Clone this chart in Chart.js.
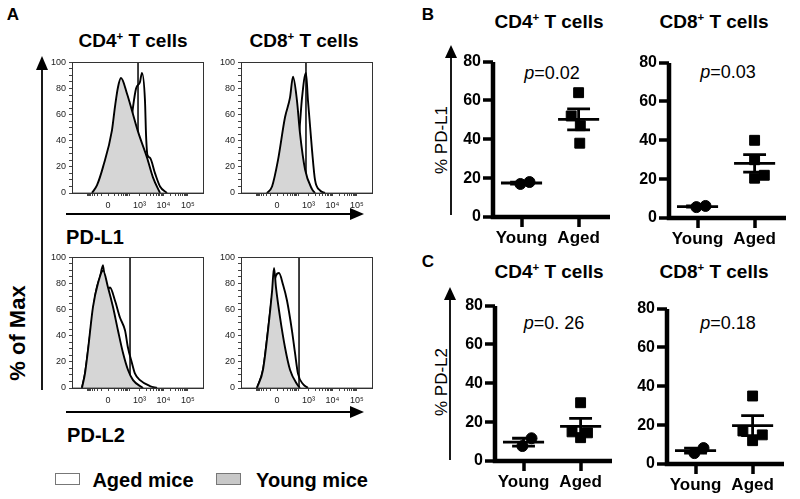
<!DOCTYPE html>
<html>
<head>
<meta charset="utf-8">
<script src="https://cdn.jsdelivr.net/npm/chart.js@4.4.1/dist/chart.umd.min.js"></script>
<style>
  body { margin: 0; background: #fff; }
  #fig { position: relative; width: 800px; height: 499px; overflow: hidden;
         font-family: Arial, "Liberation Sans", sans-serif; color: #000; }
  .lbl { position: absolute; white-space: nowrap; transform: translate(-50%, -50%); }
  .b { font-weight: bold; }
  sup { font-size: 60%; vertical-align: 0.6em; line-height: 0; }
  svg { position: absolute; left: 0; top: 0; }
  .key { position: absolute; width: 23px; height: 10px; border: 1px solid #777; }
</style>
</head>
<body>
<div id="fig">
  <div class="lbl b" style="left:13px;top:15px;font-size:17px">A</div>
  <div class="lbl b" style="left:133px;top:41px;font-size:19px">CD4<sup>+</sup> T cells</div>
  <div class="lbl b" style="left:304px;top:41px;font-size:19px">CD8<sup>+</sup> T cells</div>
  <div class="lbl b" style="left:95px;top:237px;font-size:20px">PD-L1</div>
  <div class="lbl b" style="left:96px;top:435px;font-size:20px">PD-L2</div>
  <div class="lbl b" style="left:18px;top:333px;font-size:22px;transform:translate(-50%,-50%) rotate(-90deg)">% of Max</div>

  <div class="key" style="left:55px;top:473px;background:#fff"></div>
  <div class="lbl b" style="left:143px;top:480px;font-size:20px">Aged mice</div>
  <div class="key" style="left:216px;top:473px;background:#c8c8c8"></div>
  <div class="lbl b" style="left:312px;top:480px;font-size:20px">Young mice</div>

  <div class="lbl b" style="left:428px;top:15px;font-size:17px">B</div>
  <div class="lbl b" style="left:549px;top:22px;font-size:19px">CD4<sup>+</sup> T cells</div>
  <div class="lbl b" style="left:714px;top:22px;font-size:19px">CD8<sup>+</sup> T cells</div>
  <div class="lbl" style="left:442px;top:140px;font-size:17px;transform:translate(-50%,-50%) rotate(-90deg)">% PD-L1</div>
  <div class="lbl" style="left:552px;top:73px;font-size:18px"><i>p</i>=0.02</div>
  <div class="lbl" style="left:728px;top:72px;font-size:18px"><i>p</i>=0.03</div>

  <div class="lbl b" style="left:428px;top:262px;font-size:17px">C</div>
  <div class="lbl b" style="left:549px;top:272px;font-size:19px">CD4<sup>+</sup> T cells</div>
  <div class="lbl b" style="left:714px;top:272px;font-size:19px">CD8<sup>+</sup> T cells</div>
  <div class="lbl" style="left:442px;top:382px;font-size:17px;transform:translate(-50%,-50%) rotate(-90deg)">% PD-L2</div>
  <div class="lbl" style="left:554px;top:323px;font-size:18px"><i>p</i>=0. 26</div>
  <div class="lbl" style="left:728px;top:323px;font-size:18px"><i>p</i>=0.18</div>

  <svg width="800" height="499">
    <g stroke="#000" stroke-width="1.8" fill="#000">
      <line x1="42" y1="390" x2="42" y2="68"/>
      <polygon points="36,70 48,70 42,56" stroke="none"/>
      <line x1="66" y1="214" x2="352" y2="214"/>
      <polygon points="350,208 350,220 364,214" stroke="none"/>
      <line x1="66" y1="412" x2="352" y2="412"/>
      <polygon points="350,406 350,418 364,412" stroke="none"/>
      <line x1="451" y1="215" x2="451" y2="56"/>
      <polygon points="445,58 457,58 451,45" stroke="none"/>
      <line x1="450" y1="460" x2="450" y2="298"/>
      <polygon points="444,300 456,300 450,287" stroke="none"/>
    </g>
  </svg>
</div>

<script>
// histogram axis: channel 0..1000 across the plot box
const histTickChannels = [275, 515, 698, 885];
const histTickLabels = ["0", "10³", "10⁴", "10⁵"];

// PD-L1, CD4+ (channel, % of max)
const l1Cd4YoungX = [153, 191, 237, 305, 328, 351, 374, 420, 458, 504, 573, 618, 672];
const l1Cd4YoungY = [0, 6, 20, 48, 66, 81, 88, 76, 63, 47, 27, 12, 0];
const l1Cd4AgedX = [267, 313, 351, 405, 443, 466, 489, 519, 534, 557, 565, 576, 595, 634, 672, 725];
const l1Cd4AgedY = [0, 2, 12, 30, 46, 66, 80, 85, 92, 71, 45, 29, 27, 15, 5, 0];
const l1Cd4Gate = 504;

// PD-L1, CD8+
const l1Cd8YoungX = [198, 237, 282, 336, 374, 397, 427, 450, 489, 542, 565];
const l1Cd8YoungY = [0, 5, 25, 58, 73, 89, 71, 46, 18, 3, 0];
const l1Cd8AgedX = [351, 389, 427, 450, 466, 496, 511, 542, 565, 603, 641];
const l1Cd8AgedY = [0, 8, 25, 53, 73, 92, 71, 33, 10, 2, 0];
const l1Cd8Gate = 496;

// PD-L2, CD4+
const l2Cd4YoungX = [76, 99, 122, 160, 198, 237, 275, 313, 351, 389, 427, 466, 542];
const l2Cd4YoungY = [0, 11, 29, 62, 80, 90, 77, 62, 44, 27, 14, 6, 0];
const l2Cd4AgedX = [76, 99, 137, 183, 214, 237, 260, 290, 328, 366, 405, 427, 458, 481, 519, 595, 649];
const l2Cd4AgedY = [0, 11, 40, 74, 85, 94, 74, 77, 67, 54, 44, 31, 19, 11, 6, 1.5, 0];
const l2Cd4Gate = 443;

// PD-L2, CD8+
const l2Cd8YoungX = [122, 168, 206, 237, 252, 267, 298, 336, 374, 427, 450];
const l2Cd8YoungY = [0, 14, 44, 74, 92, 77, 54, 31, 14, 3, 0];
const l2Cd8AgedX = [122, 168, 206, 237, 267, 290, 321, 351, 389, 412, 435, 473, 511];
const l2Cd8AgedY = [0, 14, 44, 70, 86, 88, 79, 67, 44, 27, 11, 3, 0];
const l2Cd8Gate = 443;

// dot plots (% positive)
const groupLabels = ["Young", "Aged"];
const l1Cd4Young = [17, 18];
const l1Cd4Aged = [64, 52, 47, 38];
const l1Cd8Young = [5.6, 6.2];
const l1Cd8Aged = [40, 30, 20.5, 22];
const l2Cd4Young = [7.7, 11.7];
const l2Cd4Aged = [30, 15, 14.5, 12];
const l2Cd8Young = [5.6, 8.2];
const l2Cd8Aged = [35, 17, 15, 12];
// horizontal scatter of points around each group
const youngJitter = [-0.02, 0.14];
const l1Cd4AgedJitter = [0, -0.13, 0.03, 0.02];
const l1Cd8AgedJitter = [0, 0, 0, 0.17];
const l2Cd4AgedJitter = [0, -0.15, 0.12, 0];
const l2Cd8AgedJitter = [0, -0.17, 0.17, 0];

Chart.defaults.font.family = 'Arial, "Liberation Sans", sans-serif';

function place(left, top, w, h) {
  const cv = document.createElement("canvas");
  cv.width = w;
  cv.height = h;
  cv.style.cssText = `position:absolute;left:${left}px;top:${top}px;width:${w}px;height:${h}px`;
  document.getElementById("fig").appendChild(cv);
  return cv.getContext("2d");
}

const boxPlugin = {
  id: "box",
  afterDraw(chart) {
    const { ctx, chartArea: a } = chart;
    ctx.save();
    ctx.strokeStyle = "#333";
    ctx.lineWidth = 1;
    ctx.strokeRect(Math.round(a.left) + 0.5, Math.round(a.top) + 0.5, a.right - a.left, a.bottom - a.top);
    ctx.restore();
  },
};

// heavy Prism-style axes with outward ticks, placed from the chart's scales
const heavyAxes = {
  id: "heavyAxes",
  afterDraw(chart) {
    const { ctx, chartArea: a, scales } = chart;
    const left = Math.round(a.left), bottom = Math.round(a.bottom);
    ctx.save();
    ctx.strokeStyle = "#000";
    ctx.lineCap = "butt";
    ctx.lineWidth = 4.5;
    ctx.beginPath();
    ctx.moveTo(left, Math.round(a.top));
    ctx.lineTo(left, bottom + 2.25);
    ctx.moveTo(left - 2.25, bottom);
    ctx.lineTo(Math.round(a.right), bottom);
    ctx.stroke();
    ctx.lineWidth = 3.5;
    ctx.beginPath();
    scales.y.ticks.forEach((t) => {
      const py = Math.round(scales.y.getPixelForValue(t.value));
      ctx.moveTo(left - 10, py);
      ctx.lineTo(left, py);
    });
    scales.x.ticks.forEach((t) => {
      const px = Math.round(scales.x.getPixelForValue(t.value));
      ctx.moveTo(px, bottom);
      ctx.lineTo(px, bottom + 10);
    });
    ctx.stroke();
    ctx.restore();
  },
};

function histAxisTicks() {
  const out = histTickChannels.map((v) => ({ value: v }));
  const [z, t3, t4, t5] = histTickChannels;
  for (let k = 2; k <= 9; k++) {
    const f = Math.log10(k);
    out.push({ value: t3 + (t4 - t3) * f }, { value: t4 + (t5 - t4) * f });
    out.push({ value: z + (t3 - z) * f * 0.7 }, { value: z - (t3 - z) * f * 0.7 });
  }
  return out.filter((t) => t.value >= 0 && t.value <= 1000).sort((a, b) => a.value - b.value);
}

const pts = (xs, ys) => xs.map((x, i) => ({ x, y: ys[i] }));

function histogram(left, top, youngX, youngY, agedX, agedY, gate) {
  const ctx = place(left - 34, top - 8, 34 + 131 + 6, 8 + 131 + 24);
  new Chart(ctx, {
    type: "line",
    data: {
      datasets: [
        { data: pts(youngX, youngY), borderColor: "#000", borderWidth: 1.9, backgroundColor: "#d6d6d6",
          fill: "origin", pointRadius: 0, cubicInterpolationMode: "monotone" },
        { data: pts(agedX, agedY), borderColor: "#000", borderWidth: 1.9, fill: false,
          pointRadius: 0, cubicInterpolationMode: "monotone" },
        { data: [{ x: gate, y: 0 }, { x: gate, y: 100 }], borderColor: "#000", borderWidth: 1.5, pointRadius: 0 },
      ],
    },
    options: {
      responsive: false,
      animation: false,
      devicePixelRatio: 1,
      layout: { padding: { top: 8, right: 6, left: 0, bottom: 0 } },
      plugins: { legend: { display: false }, tooltip: { enabled: false } },
      scales: {
        x: {
          type: "linear", min: 0, max: 1000,
          afterFit: (s) => { s.height = 24; },
          afterBuildTicks: (s) => { s.ticks = histAxisTicks(); },
          ticks: {
            autoSkip: false, maxRotation: 0, padding: 4, font: { size: 9 }, color: "#222",
            callback: (v) => { const i = histTickChannels.indexOf(v); return i >= 0 ? histTickLabels[i] : ""; },
          },
          grid: { drawOnChartArea: false, tickLength: 3, color: "#444" },
          border: { color: "#333", width: 1 },
        },
        y: {
          min: 0, max: 100,
          afterFit: (s) => { s.width = 34; },
          ticks: { stepSize: 5, autoSkip: false, padding: 3, font: { size: 9 }, color: "#222",
                   callback: (v) => (v % 20 === 0 ? v : "") },
          grid: { drawOnChartArea: false, tickLength: 3, color: "#444" },
          border: { color: "#333", width: 1 },
        },
      },
    },
    plugins: [boxPlugin],
  });
}

function summary(c, vals) {
  const n = vals.length;
  const m = vals.reduce((a, b) => a + b, 0) / n;
  const sd = Math.sqrt(vals.reduce((a, b) => a + (b - m) ** 2, 0) / (n - 1));
  const se = sd / Math.sqrt(n);
  const seg = (x0, y0, x1, y1) => ({
    data: [{ x: x0, y: y0 }, { x: x1, y: y1 }],
    showLine: true, borderColor: "#000", borderWidth: 2.8, pointRadius: 0,
  });
  return [
    seg(c - 0.36, m, c + 0.36, m),
    seg(c, m - se, c, m + se),
    seg(c - 0.2, m + se, c + 0.2, m + se),
    seg(c - 0.2, m - se, c + 0.2, m - se),
  ];
}

function dotPlot(left, top, young, aged, agedJitter) {
  const ctx = place(left - 52, top - 12, 52 + 119 + 6, 12 + 156 + 34);
  new Chart(ctx, {
    type: "scatter",
    data: {
      datasets: [
        { data: young.map((v, i) => ({ x: 0 + youngJitter[i], y: v })), pointStyle: "circle",
          pointRadius: 5.5, backgroundColor: "#000", borderColor: "#000" },
        { data: aged.map((v, i) => ({ x: 1 + agedJitter[i], y: v })), pointStyle: "rect",
          pointRadius: 7, backgroundColor: "#000", borderColor: "#000" },
        ...summary(0, young),
        ...summary(1, aged),
      ],
    },
    options: {
      responsive: false,
      animation: false,
      devicePixelRatio: 1,
      layout: { padding: { top: 12, right: 6, left: 0, bottom: 0 } },
      plugins: { legend: { display: false }, tooltip: { enabled: false } },
      scales: {
        x: {
          type: "linear", min: -0.5, max: 1.55,
          afterFit: (s) => { s.height = 34; },
          afterBuildTicks: (s) => { s.ticks = [{ value: 0 }, { value: 1 }]; },
          ticks: { padding: 2, font: { size: 17, weight: "bold" }, color: "#000",
                   callback: (v) => groupLabels[v] },
          grid: { drawOnChartArea: false, drawTicks: true, tickLength: 9, color: "rgba(0,0,0,0)" },
          border: { display: false },
        },
        y: {
          min: 0, max: 80,
          afterFit: (s) => { s.width = 52; },
          ticks: { stepSize: 20, padding: 3, font: { size: 16, weight: "bold" }, color: "#000" },
          grid: { drawOnChartArea: false, drawTicks: true, tickLength: 9, color: "rgba(0,0,0,0)" },
          border: { display: false },
        },
      },
    },
    plugins: [heavyAxes],
  });
}

histogram(72, 62, l1Cd4YoungX, l1Cd4YoungY, l1Cd4AgedX, l1Cd4AgedY, l1Cd4Gate);
histogram(241, 62, l1Cd8YoungX, l1Cd8YoungY, l1Cd8AgedX, l1Cd8AgedY, l1Cd8Gate);
histogram(72, 257, l2Cd4YoungX, l2Cd4YoungY, l2Cd4AgedX, l2Cd4AgedY, l2Cd4Gate);
histogram(241, 257, l2Cd8YoungX, l2Cd8YoungY, l2Cd8AgedX, l2Cd8AgedY, l2Cd8Gate);

dotPlot(493, 61, l1Cd4Young, l1Cd4Aged, l1Cd4AgedJitter);
dotPlot(669, 62, l1Cd8Young, l1Cd8Aged, l1Cd8AgedJitter);
dotPlot(495, 305, l2Cd4Young, l2Cd4Aged, l2Cd4AgedJitter);
dotPlot(667, 308, l2Cd8Young, l2Cd8Aged, l2Cd8AgedJitter);
</script>
</body>
</html>
